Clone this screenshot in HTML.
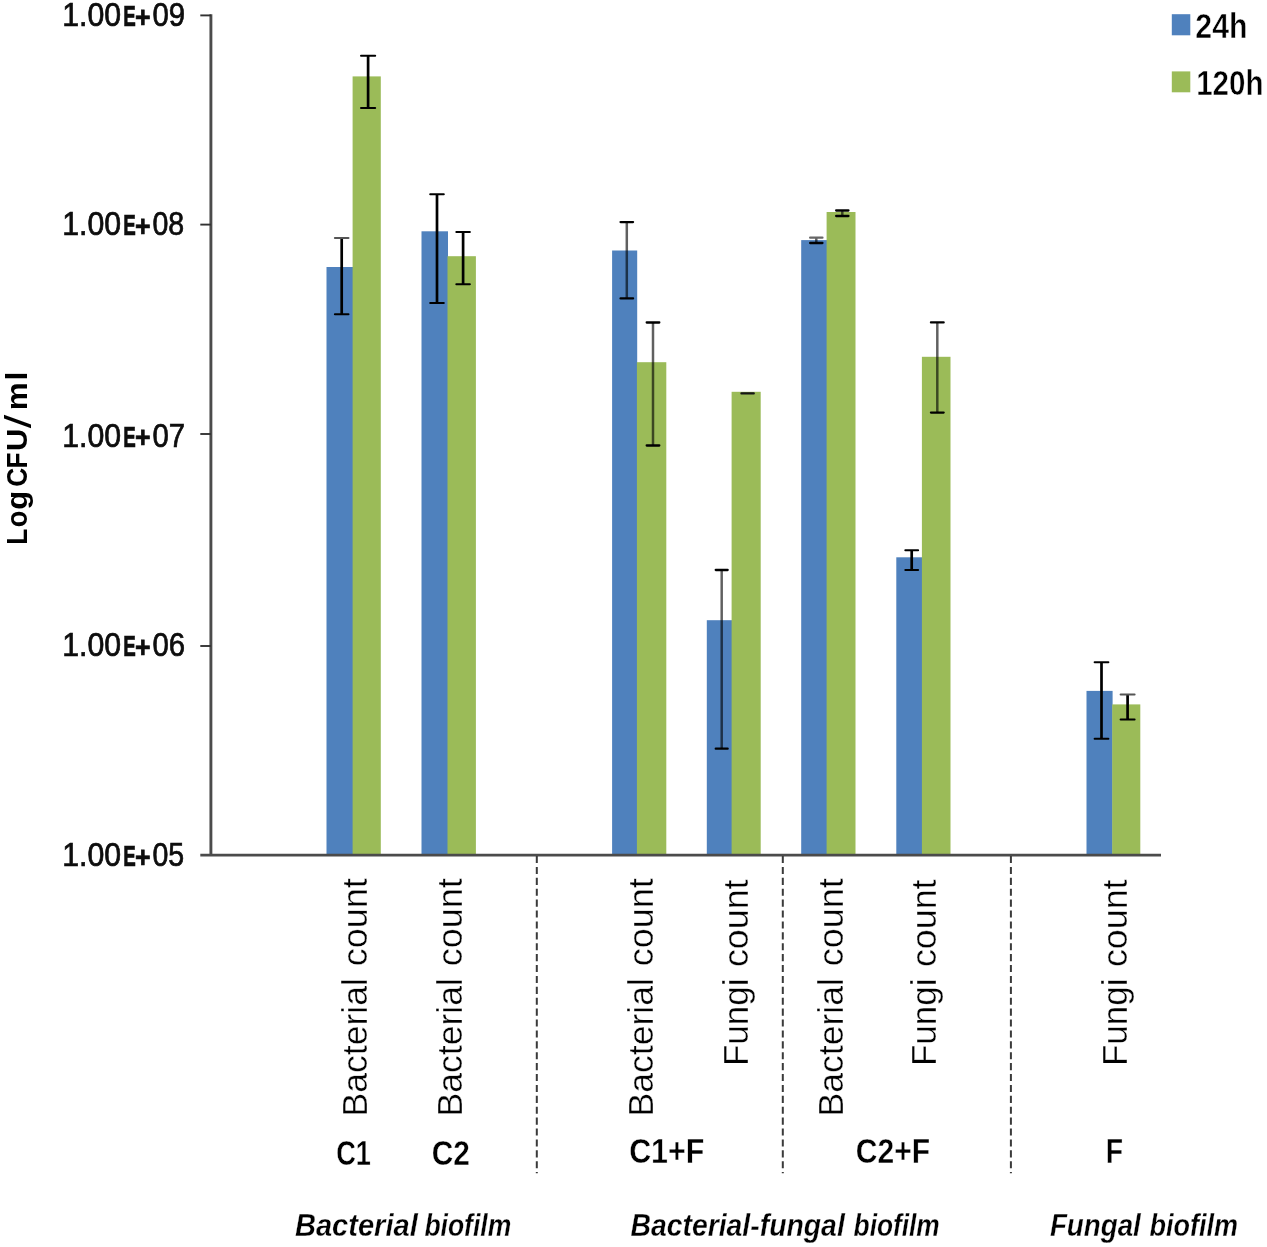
<!DOCTYPE html>
<html><head><meta charset="utf-8"><title>Biofilm CFU chart</title>
<style>
html,body{margin:0;padding:0;background:#fff;}
svg{display:block;}
text{font-family:"Liberation Sans",sans-serif;}
</style></head>
<body>
<svg width="1267" height="1247" viewBox="0 0 1267 1247">
<defs><filter id="soft" x="0" y="0" width="1267" height="1247" filterUnits="userSpaceOnUse"><feGaussianBlur stdDeviation="0.62"/></filter></defs>
<rect width="1267" height="1247" fill="#fff"/>
<g id="chart" filter="url(#soft)">
<rect width="1267" height="1247" fill="#fff"/>
<g id="bars">
<rect x="326.50" y="267.00" width="26.50" height="588.00" fill="#4f81bd"/>
<rect x="352.60" y="76.40" width="28.20" height="778.60" fill="#9bbb59"/>
<rect x="421.50" y="231.30" width="26.50" height="623.70" fill="#4f81bd"/>
<rect x="447.50" y="256.20" width="28.40" height="598.80" fill="#9bbb59"/>
<rect x="612.10" y="250.50" width="25.10" height="604.50" fill="#4f81bd"/>
<rect x="636.90" y="362.20" width="29.40" height="492.80" fill="#9bbb59"/>
<rect x="706.80" y="620.20" width="25.20" height="234.80" fill="#4f81bd"/>
<rect x="731.60" y="391.80" width="29.10" height="463.20" fill="#9bbb59"/>
<rect x="801.20" y="240.10" width="25.80" height="614.90" fill="#4f81bd"/>
<rect x="826.60" y="212.00" width="28.90" height="643.00" fill="#9bbb59"/>
<rect x="896.30" y="557.30" width="25.90" height="297.70" fill="#4f81bd"/>
<rect x="921.90" y="356.80" width="28.60" height="498.20" fill="#9bbb59"/>
<rect x="1086.50" y="690.90" width="26.10" height="164.10" fill="#4f81bd"/>
<rect x="1112.20" y="704.40" width="28.10" height="150.60" fill="#9bbb59"/>
</g>
<g id="axes">
<line x1="210.9" y1="14.2" x2="210.9" y2="856" stroke="#4c4c4c" stroke-width="2.9"/>
<line x1="200.3" y1="855.1" x2="1161" y2="855.1" stroke="#4c4c4c" stroke-width="2.7"/>
<line x1="200.3" y1="15.4" x2="211" y2="15.4" stroke="#333" stroke-width="1.9"/>
<line x1="200.3" y1="224.6" x2="211" y2="224.6" stroke="#333" stroke-width="1.9"/>
<line x1="200.3" y1="434.0" x2="211" y2="434.0" stroke="#333" stroke-width="1.9"/>
<line x1="200.3" y1="646.0" x2="211" y2="646.0" stroke="#333" stroke-width="1.9"/>
<line x1="536.8" y1="856" x2="536.8" y2="1173.2" stroke="#3a3a3a" stroke-width="2.0" stroke-dasharray="7.1 3.8"/>
<line x1="782.8" y1="856" x2="782.8" y2="1173.2" stroke="#3a3a3a" stroke-width="2.0" stroke-dasharray="7.1 3.8"/>
<line x1="1010.9" y1="856" x2="1010.9" y2="1173.2" stroke="#3a3a3a" stroke-width="2.0" stroke-dasharray="7.1 3.8"/>
</g>
<g id="errors">
<line x1="341.70" y1="238.00" x2="341.70" y2="314.30" stroke="#000" stroke-width="2.70"/>
<line x1="334.90" y1="238.00" x2="348.50" y2="238.00" stroke="#555" stroke-width="2.00" stroke-linecap="round"/>
<line x1="334.90" y1="314.30" x2="348.50" y2="314.30" stroke="#000" stroke-width="2.00" stroke-linecap="round"/>
<line x1="368.10" y1="55.80" x2="368.10" y2="108.00" stroke="#000" stroke-width="2.70"/>
<line x1="361.00" y1="55.80" x2="375.20" y2="55.80" stroke="#000" stroke-width="2.00" stroke-linecap="round"/>
<line x1="361.00" y1="108.00" x2="375.20" y2="108.00" stroke="#000" stroke-width="2.00" stroke-linecap="round"/>
<line x1="437.00" y1="194.30" x2="437.00" y2="303.10" stroke="#000" stroke-width="2.70"/>
<line x1="430.20" y1="194.30" x2="443.80" y2="194.30" stroke="#000" stroke-width="2.00" stroke-linecap="round"/>
<line x1="430.20" y1="303.10" x2="443.80" y2="303.10" stroke="#000" stroke-width="2.00" stroke-linecap="round"/>
<line x1="463.10" y1="232.10" x2="463.10" y2="284.30" stroke="#000" stroke-width="2.70"/>
<line x1="456.30" y1="232.10" x2="469.90" y2="232.10" stroke="#000" stroke-width="2.00" stroke-linecap="round"/>
<line x1="456.30" y1="284.30" x2="469.90" y2="284.30" stroke="#000" stroke-width="2.00" stroke-linecap="round"/>
<line x1="626.80" y1="222.10" x2="626.80" y2="298.40" stroke="#000" stroke-width="2.50" stroke-opacity="0.62"/>
<line x1="620.55" y1="222.10" x2="633.05" y2="222.10" stroke="#000" stroke-width="2.30" stroke-linecap="round"/>
<line x1="620.55" y1="298.40" x2="633.05" y2="298.40" stroke="#000" stroke-width="2.30" stroke-linecap="round"/>
<line x1="653.00" y1="322.50" x2="653.00" y2="445.50" stroke="#000" stroke-width="2.50" stroke-opacity="0.62"/>
<line x1="646.70" y1="322.50" x2="659.30" y2="322.50" stroke="#000" stroke-width="2.30" stroke-linecap="round"/>
<line x1="646.70" y1="445.50" x2="659.30" y2="445.50" stroke="#000" stroke-width="2.30" stroke-linecap="round"/>
<line x1="721.70" y1="570.00" x2="721.70" y2="748.70" stroke="#000" stroke-width="2.50" stroke-opacity="0.62"/>
<line x1="715.75" y1="570.00" x2="727.65" y2="570.00" stroke="#000" stroke-width="2.30" stroke-linecap="round"/>
<line x1="715.75" y1="748.70" x2="727.65" y2="748.70" stroke="#000" stroke-width="2.30" stroke-linecap="round"/>
<line x1="741.40" y1="393.40" x2="753.80" y2="393.40" stroke="#141414" stroke-width="2.20" stroke-linecap="round"/>
<line x1="816.30" y1="237.70" x2="816.30" y2="243.00" stroke="#000" stroke-width="2.50" stroke-opacity="0.62"/>
<line x1="810.15" y1="237.70" x2="822.45" y2="237.70" stroke="#666" stroke-width="2.30" stroke-linecap="round"/>
<line x1="810.15" y1="243.00" x2="822.45" y2="243.00" stroke="#000" stroke-width="2.30" stroke-linecap="round"/>
<line x1="842.30" y1="210.50" x2="842.30" y2="216.00" stroke="#000" stroke-width="2.50" stroke-opacity="0.62"/>
<line x1="836.15" y1="210.50" x2="848.45" y2="210.50" stroke="#000" stroke-width="2.30" stroke-linecap="round"/>
<line x1="836.15" y1="216.00" x2="848.45" y2="216.00" stroke="#000" stroke-width="2.30" stroke-linecap="round"/>
<line x1="911.70" y1="550.30" x2="911.70" y2="570.00" stroke="#000" stroke-width="2.70"/>
<line x1="905.30" y1="550.30" x2="918.10" y2="550.30" stroke="#000" stroke-width="2.00" stroke-linecap="round"/>
<line x1="905.30" y1="570.00" x2="918.10" y2="570.00" stroke="#000" stroke-width="2.00" stroke-linecap="round"/>
<line x1="937.30" y1="322.40" x2="937.30" y2="412.60" stroke="#000" stroke-width="2.50" stroke-opacity="0.62"/>
<line x1="930.95" y1="322.40" x2="943.65" y2="322.40" stroke="#000" stroke-width="2.30" stroke-linecap="round"/>
<line x1="930.95" y1="412.60" x2="943.65" y2="412.60" stroke="#000" stroke-width="2.30" stroke-linecap="round"/>
<line x1="1101.50" y1="662.30" x2="1101.50" y2="738.80" stroke="#000" stroke-width="2.70"/>
<line x1="1094.60" y1="662.30" x2="1108.40" y2="662.30" stroke="#000" stroke-width="2.00" stroke-linecap="round"/>
<line x1="1094.60" y1="738.80" x2="1108.40" y2="738.80" stroke="#000" stroke-width="2.00" stroke-linecap="round"/>
<line x1="1127.60" y1="694.40" x2="1127.60" y2="719.50" stroke="#000" stroke-width="2.70"/>
<line x1="1120.60" y1="694.40" x2="1134.60" y2="694.40" stroke="#555" stroke-width="2.00" stroke-linecap="round"/>
<line x1="1120.60" y1="719.50" x2="1134.60" y2="719.50" stroke="#000" stroke-width="2.00" stroke-linecap="round"/>
</g>
<g id="legend">
<rect x="1171.8" y="14.2" width="18.5" height="21.1" fill="#4f81bd"/>
<rect x="1171.8" y="71.4" width="18.5" height="20.9" fill="#9bbb59"/>
</g>
<g id="labels">
<text font-size="33.2" fill="#0a0a0a" stroke="#0a0a0a" stroke-width="0.70" y="26.00"><tspan x="62.17" textLength="58.94" lengthAdjust="spacingAndGlyphs">1.00</tspan><tspan x="123.16" textLength="12.52" lengthAdjust="spacingAndGlyphs" font-weight="bold" font-size="29.4">E</tspan><tspan x="135.08" dy="0.60" textLength="15.58" lengthAdjust="spacingAndGlyphs" font-weight="bold" font-size="29.0">+</tspan><tspan x="152.41" dy="-0.60" textLength="32.68" lengthAdjust="spacingAndGlyphs">09</tspan></text>
<text font-size="33.2" fill="#0a0a0a" stroke="#0a0a0a" stroke-width="0.70" y="235.00"><tspan x="62.17" textLength="58.94" lengthAdjust="spacingAndGlyphs">1.00</tspan><tspan x="123.16" textLength="12.52" lengthAdjust="spacingAndGlyphs" font-weight="bold" font-size="29.4">E</tspan><tspan x="135.08" dy="0.60" textLength="15.58" lengthAdjust="spacingAndGlyphs" font-weight="bold" font-size="29.0">+</tspan><tspan x="152.44" dy="-0.60" textLength="31.75" lengthAdjust="spacingAndGlyphs">08</tspan></text>
<text font-size="33.2" fill="#0a0a0a" stroke="#0a0a0a" stroke-width="0.70" y="446.60"><tspan x="62.17" textLength="58.94" lengthAdjust="spacingAndGlyphs">1.00</tspan><tspan x="123.16" textLength="12.52" lengthAdjust="spacingAndGlyphs" font-weight="bold" font-size="29.4">E</tspan><tspan x="135.08" dy="0.60" textLength="15.58" lengthAdjust="spacingAndGlyphs" font-weight="bold" font-size="29.0">+</tspan><tspan x="152.41" dy="-0.60" textLength="32.68" lengthAdjust="spacingAndGlyphs">07</tspan></text>
<text font-size="33.2" fill="#0a0a0a" stroke="#0a0a0a" stroke-width="0.70" y="656.20"><tspan x="62.17" textLength="58.94" lengthAdjust="spacingAndGlyphs">1.00</tspan><tspan x="123.16" textLength="12.52" lengthAdjust="spacingAndGlyphs" font-weight="bold" font-size="29.4">E</tspan><tspan x="135.08" dy="0.60" textLength="15.58" lengthAdjust="spacingAndGlyphs" font-weight="bold" font-size="29.0">+</tspan><tspan x="152.41" dy="-0.60" textLength="32.68" lengthAdjust="spacingAndGlyphs">06</tspan></text>
<text font-size="33.2" fill="#0a0a0a" stroke="#0a0a0a" stroke-width="0.70" y="866.20"><tspan x="62.17" textLength="58.94" lengthAdjust="spacingAndGlyphs">1.00</tspan><tspan x="123.16" textLength="12.52" lengthAdjust="spacingAndGlyphs" font-weight="bold" font-size="29.4">E</tspan><tspan x="135.08" dy="0.60" textLength="15.58" lengthAdjust="spacingAndGlyphs" font-weight="bold" font-size="29.0">+</tspan><tspan x="152.44" dy="-0.60" textLength="31.75" lengthAdjust="spacingAndGlyphs">05</tspan></text>
<text font-size="35.6" fill="#000" font-weight="bold" stroke="#fff" stroke-width="0.50" y="38.00"><tspan x="1195.35" textLength="52.12" lengthAdjust="spacingAndGlyphs">24h</tspan></text>
<text font-size="35.6" fill="#000" font-weight="bold" stroke="#fff" stroke-width="0.50" y="94.70"><tspan x="1196.14" textLength="67.30" lengthAdjust="spacingAndGlyphs">120h</tspan></text>
<text font-size="28.6" fill="#000" font-weight="bold" transform="translate(26.60 0) rotate(-90)"><tspan x="-544.78" textLength="16.07" lengthAdjust="spacingAndGlyphs">L</tspan><tspan x="-527.15" textLength="16.59" lengthAdjust="spacingAndGlyphs">o</tspan><tspan x="-509.89" textLength="18.98" lengthAdjust="spacingAndGlyphs">g</tspan> <tspan x="-486.72" textLength="19.02" lengthAdjust="spacingAndGlyphs">C</tspan><tspan x="-468.58" textLength="16.07" lengthAdjust="spacingAndGlyphs">F</tspan><tspan x="-451.08" textLength="22.37" lengthAdjust="spacingAndGlyphs">U</tspan><tspan x="-428.20" dy="4.60" textLength="13.46" lengthAdjust="spacingAndGlyphs" font-weight="normal" font-size="37.0">/</tspan><tspan x="-410.30" dy="-4.60" textLength="27.86" lengthAdjust="spacingAndGlyphs">m</tspan><tspan x="-380.48" textLength="8.90" lengthAdjust="spacingAndGlyphs">l</tspan></text>
<text font-size="35.4" fill="#000" stroke="#fff" stroke-width="0.35" transform="translate(366.90 0) rotate(-90)"><tspan x="-1116.51" textLength="138.48" lengthAdjust="spacingAndGlyphs">Bacterial</tspan> <tspan x="-966.22" textLength="88.05" lengthAdjust="spacingAndGlyphs">count</tspan></text>
<text font-size="35.4" fill="#000" stroke="#fff" stroke-width="0.35" transform="translate(461.70 0) rotate(-90)"><tspan x="-1116.51" textLength="138.48" lengthAdjust="spacingAndGlyphs">Bacterial</tspan> <tspan x="-966.22" textLength="88.05" lengthAdjust="spacingAndGlyphs">count</tspan></text>
<text font-size="35.4" fill="#000" stroke="#fff" stroke-width="0.35" transform="translate(652.50 0) rotate(-90)"><tspan x="-1116.51" textLength="138.48" lengthAdjust="spacingAndGlyphs">Bacterial</tspan> <tspan x="-966.22" textLength="88.05" lengthAdjust="spacingAndGlyphs">count</tspan></text>
<text font-size="35.4" fill="#000" stroke="#fff" stroke-width="0.35" transform="translate(747.80 0) rotate(-90)"><tspan x="-1066.08" textLength="87.62" lengthAdjust="spacingAndGlyphs">Fungi</tspan> <tspan x="-967.01" textLength="87.44" lengthAdjust="spacingAndGlyphs">count</tspan></text>
<text font-size="35.4" fill="#000" stroke="#fff" stroke-width="0.35" transform="translate(843.30 0) rotate(-90)"><tspan x="-1116.51" textLength="138.48" lengthAdjust="spacingAndGlyphs">Bacterial</tspan> <tspan x="-966.22" textLength="88.05" lengthAdjust="spacingAndGlyphs">count</tspan></text>
<text font-size="35.4" fill="#000" stroke="#fff" stroke-width="0.35" transform="translate(936.20 0) rotate(-90)"><tspan x="-1066.08" textLength="87.62" lengthAdjust="spacingAndGlyphs">Fungi</tspan> <tspan x="-967.01" textLength="87.44" lengthAdjust="spacingAndGlyphs">count</tspan></text>
<text font-size="35.4" fill="#000" stroke="#fff" stroke-width="0.35" transform="translate(1126.60 0) rotate(-90)"><tspan x="-1066.08" textLength="87.62" lengthAdjust="spacingAndGlyphs">Fungi</tspan> <tspan x="-967.01" textLength="87.44" lengthAdjust="spacingAndGlyphs">count</tspan></text>
<text font-size="35.0" fill="#000" font-weight="bold" stroke="#fff" stroke-width="0.40" y="1165.30"><tspan x="336.22" textLength="34.74" lengthAdjust="spacingAndGlyphs">C1</tspan></text>
<text font-size="35.0" fill="#000" font-weight="bold" stroke="#fff" stroke-width="0.40" y="1165.30"><tspan x="431.65" textLength="38.15" lengthAdjust="spacingAndGlyphs">C2</tspan></text>
<text font-size="35.0" fill="#000" font-weight="bold" stroke="#fff" stroke-width="0.40" y="1163.20"><tspan x="629.13" textLength="75.20" lengthAdjust="spacingAndGlyphs">C1+F</tspan></text>
<text font-size="35.0" fill="#000" font-weight="bold" stroke="#fff" stroke-width="0.40" y="1163.20"><tspan x="855.84" textLength="74.28" lengthAdjust="spacingAndGlyphs">C2+F</tspan></text>
<text font-size="35.0" fill="#000" font-weight="bold" stroke="#fff" stroke-width="0.40" y="1163.20"><tspan x="1105.68" textLength="17.33" lengthAdjust="spacingAndGlyphs">F</tspan></text>
<text font-size="31.2" fill="#000" font-weight="bold" font-style="italic" stroke="#fff" stroke-width="0.30" y="1236.30"><tspan x="294.90" textLength="122.86" lengthAdjust="spacingAndGlyphs">Bacterial</tspan> <tspan x="424.40" textLength="86.82" lengthAdjust="spacingAndGlyphs">biofilm</tspan></text>
<text font-size="31.2" fill="#000" font-weight="bold" font-style="italic" stroke="#fff" stroke-width="0.30" y="1236.30"><tspan x="630.40" textLength="214.39" lengthAdjust="spacingAndGlyphs">Bacterial-fungal</tspan> <tspan x="853.60" textLength="86.12" lengthAdjust="spacingAndGlyphs">biofilm</tspan></text>
<text font-size="31.2" fill="#000" font-weight="bold" font-style="italic" stroke="#fff" stroke-width="0.30" y="1236.30"><tspan x="1049.90" textLength="90.91" lengthAdjust="spacingAndGlyphs">Fungal</tspan> <tspan x="1149.60" textLength="88.43" lengthAdjust="spacingAndGlyphs">biofilm</tspan></text>
</g>
</g>
</svg>
</body></html>
